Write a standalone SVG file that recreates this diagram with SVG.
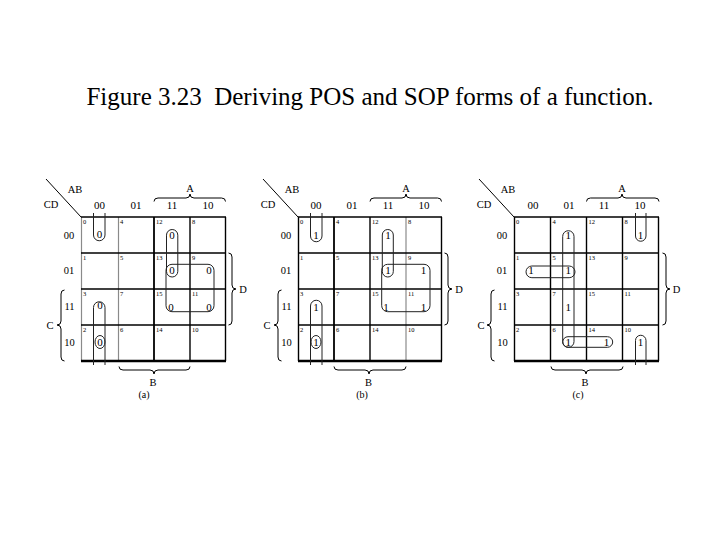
<svg xmlns="http://www.w3.org/2000/svg" width="720" height="540" viewBox="0 0 720 540">
<style>
text{font-family:"Liberation Serif","Times New Roman",serif;fill:#000}
.title{font-size:25px}
.lbl{font-size:10.5px;text-anchor:middle}
.hdr{font-size:11px;text-anchor:middle}
.row{font-size:10.5px;text-anchor:middle}
.val{font-size:11px;text-anchor:middle}
.num{font-size:6.5px}
.cap{font-size:10px;text-anchor:middle}
.g{stroke:#000;stroke-width:1.4;fill:none}
.gl{stroke:#8a8a8a;stroke-width:1.2;fill:none}
.gb{stroke:#000;stroke-width:2.6;fill:none}
.br{stroke:#000;stroke-width:1;fill:none}
.loop{stroke:#222;stroke-width:1;fill:none}
</style>
<rect width="720" height="540" fill="#fff"/>
<text class="title" x="370" y="105" text-anchor="middle" xml:space="preserve">Figure 3.23  Deriving POS and SOP forms of a function.</text>

<!-- Map (a) -->
<g id="map-a" transform="translate(81,0)">
  <g id="map-a-grid">
    <line class="gl" x1="0.5" y1="217" x2="0.5" y2="361"/>
    <line class="gl" x1="37.5" y1="217" x2="37.5" y2="361"/>
    <line class="g" x1="73" y1="217" x2="73" y2="361" style="stroke-width:1.8"/>
    <line class="g" x1="109" y1="217" x2="109" y2="361"/>
    <line class="g" x1="144.5" y1="217" x2="144.5" y2="361"/>
    <line class="g" x1="0" y1="217" x2="145" y2="217"/>
    <line class="g" x1="0" y1="253" x2="145" y2="253"/>
    <line class="g" x1="0" y1="289" x2="145" y2="289"/>
    <line class="g" x1="0" y1="325" x2="145" y2="325"/>
    <line class="gb" x1="0" y1="361" x2="145" y2="361"/>
  </g>
  <g id="map-a-labels">
    <line class="br" x1="-35" y1="179" x2="0" y2="217"/>
    <text class="lbl" x="-6" y="193">AB</text>
    <text class="lbl" x="-30" y="208">CD</text>
    <text class="hdr" x="18.5" y="209">00</text>
    <text class="hdr" x="55" y="209">01</text>
    <text class="hdr" x="91" y="209">11</text>
    <text class="hdr" x="127" y="209">10</text>
    <text class="row" x="-12" y="238.5">00</text>
    <text class="row" x="-12" y="274">01</text>
    <text class="row" x="-11.5" y="309.5">11</text>
    <text class="row" x="-11.5" y="345.5">10</text>
    <path class="br" d="M73,201.5 Q73,198 77,198 H105 Q109,198 109,194 Q109,198 113,198 H140.5 Q144.5,198 144.5,201.5"/>
    <text class="lbl" x="109" y="192">A</text>
    <path class="br" d="M147.5,253 Q151,253 151,257 V285 Q151,289 155,289 Q151,289 151,293 V321 Q151,325 147.5,325"/>
    <text class="lbl" x="162" y="293">D</text>
    <path class="br" d="M-16.5,290 Q-20,290 -20,294 V321 Q-20,325 -24,325 Q-20,325 -20,329 V357 Q-20,361 -16.5,361"/>
    <text class="lbl" x="-31" y="328.5">C</text>
    <path class="br" d="M38,366.5 Q38,370 42,370 H69 Q73,370 73,374 Q73,370 77,370 H105 Q109,370 109,366.5"/>
    <text class="lbl" x="72" y="386">B</text>
    <text class="cap" x="63" y="397.5">(a)</text>
  </g>
  <g id="map-a-nums" class="num">
    <text x="2" y="223.5">0</text><text x="39" y="223.5">4</text><text x="75" y="223.5">12</text><text x="111" y="223.5">8</text>
    <text x="2" y="259.5">1</text><text x="39" y="259.5">5</text><text x="75" y="259.5">13</text><text x="111" y="259.5">9</text>
    <text x="2" y="295.5">3</text><text x="39" y="295.5">7</text><text x="75" y="295.5">15</text><text x="111" y="295.5">11</text>
    <text x="2" y="331.5">2</text><text x="39" y="331.5">6</text><text x="75" y="331.5">14</text><text x="111" y="331.5">10</text>
  </g>
  <g id="map-a-vals">
    <text class="val" x="18.5" y="238">0</text>
    <text class="val" x="19" y="309">0</text>
    <text class="val" x="19" y="346">0</text>
    <text class="val" x="91" y="239">0</text>
    <text class="val" x="91" y="274">0</text>
    <text class="val" x="128" y="274">0</text>
    <text class="val" x="90" y="310.5">0</text>
    <text class="val" x="128" y="310.5">0</text>
  </g>
  <g id="map-a-loops">
    <path class="loop" d="M12.5,213 V235 A5.75,5.75 0 0 0 24,235 V213"/>
    <path class="loop" d="M12.5,365 V307.5 A5.75,5.75 0 0 1 24,307.5 V365"/>
    <ellipse class="loop" cx="19" cy="342" rx="5" ry="6.5"/>
    <rect class="loop" x="85.5" y="229.5" width="11.3" height="47.5" rx="5.65"/>
    <rect class="loop" x="85" y="264.3" width="48" height="47.4" rx="6"/>
  </g>
</g>

<!-- Map (b) -->
<g id="map-b" transform="translate(298,0)">
  <g id="map-b-grid">
    <line class="g" x1="0.5" y1="217" x2="0.5" y2="361"/>
    <line class="g" x1="36" y1="217" x2="36" y2="361" style="stroke-width:1.8"/>
    <line class="g" x1="72" y1="217" x2="72" y2="361"/>
    <line class="gl" x1="108" y1="217" x2="108" y2="361"/>
    <line class="g" x1="143.5" y1="217" x2="143.5" y2="361"/>
    <line class="g" x1="0" y1="217" x2="144" y2="217"/>
    <line class="g" x1="0" y1="253" x2="144" y2="253"/>
    <line class="g" x1="0" y1="289" x2="144" y2="289"/>
    <line class="g" x1="0" y1="325" x2="144" y2="325"/>
    <line class="gb" x1="0" y1="361" x2="144" y2="361"/>
  </g>
  <g id="map-b-labels">
    <line class="br" x1="-35" y1="179" x2="0" y2="217"/>
    <text class="lbl" x="-6" y="193">AB</text>
    <text class="lbl" x="-30" y="208">CD</text>
    <text class="hdr" x="18" y="209">00</text>
    <text class="hdr" x="54" y="209">01</text>
    <text class="hdr" x="90" y="209">11</text>
    <text class="hdr" x="126" y="209">10</text>
    <text class="row" x="-12" y="238.5">00</text>
    <text class="row" x="-12" y="274">01</text>
    <text class="row" x="-11.5" y="309.5">11</text>
    <text class="row" x="-11.5" y="345.5">10</text>
    <path class="br" d="M72,201.5 Q72,198 76,198 H104 Q108,198 108,194 Q108,198 112,198 H139.5 Q143.5,198 143.5,201.5"/>
    <text class="lbl" x="108" y="192">A</text>
    <path class="br" d="M146.5,253 Q150,253 150,257 V285 Q150,289 154,289 Q150,289 150,293 V321 Q150,325 146.5,325"/>
    <text class="lbl" x="161" y="293">D</text>
    <path class="br" d="M-16.5,290 Q-20,290 -20,294 V321 Q-20,325 -24,325 Q-20,325 -20,329 V357 Q-20,361 -16.5,361"/>
    <text class="lbl" x="-31" y="328.5">C</text>
    <path class="br" d="M36,366.5 Q36,370 40,370 H67 Q71,370 71,374 Q71,370 75,370 H104 Q108,370 108,366.5"/>
    <text class="lbl" x="70.5" y="386">B</text>
    <text class="cap" x="64" y="397.5">(b)</text>
  </g>
  <g id="map-b-nums" class="num">
    <text x="2" y="223.5">0</text><text x="38" y="223.5">4</text><text x="74" y="223.5">12</text><text x="110" y="223.5">8</text>
    <text x="2" y="259.5">1</text><text x="38" y="259.5">5</text><text x="74" y="259.5">13</text><text x="110" y="259.5">9</text>
    <text x="2" y="295.5">3</text><text x="38" y="295.5">7</text><text x="74" y="295.5">15</text><text x="110" y="295.5">11</text>
    <text x="2" y="331.5">2</text><text x="38" y="331.5">6</text><text x="74" y="331.5">14</text><text x="110" y="331.5">10</text>
  </g>
  <g id="map-b-vals">
    <text class="val" x="18" y="239">1</text>
    <text class="val" x="18" y="310.5">1</text>
    <text class="val" x="18" y="346">1</text>
    <text class="val" x="90" y="239">1</text>
    <text class="val" x="90" y="274">1</text>
    <text class="val" x="125.5" y="274">1</text>
    <text class="val" x="88" y="310.5">1</text>
    <text class="val" x="125.5" y="310.5">1</text>
  </g>
  <g id="map-b-loops">
    <path class="loop" d="M12.5,213 V236 A5.75,5.75 0 0 0 24,236 V213"/>
    <path class="loop" d="M12.5,365 V306 A5.75,5.75 0 0 1 24,306 V365"/>
    <ellipse class="loop" cx="18" cy="342" rx="5" ry="6.5"/>
    <rect class="loop" x="84.3" y="229.5" width="11" height="47.5" rx="5.5"/>
    <rect class="loop" x="83.7" y="264.3" width="48.3" height="47.4" rx="6"/>
  </g>
</g>

<!-- Map (c) -->
<g id="map-c" transform="translate(514,0)">
  <g id="map-c-grid">
    <line class="g" x1="0.5" y1="217" x2="0.5" y2="361"/>
    <line class="g" x1="36.5" y1="217" x2="36.5" y2="361"/>
    <line class="g" x1="72.5" y1="217" x2="72.5" y2="361"/>
    <line class="g" x1="108.5" y1="217" x2="108.5" y2="361"/>
    <line class="g" x1="144.5" y1="217" x2="144.5" y2="361"/>
    <line class="g" x1="0" y1="217" x2="145" y2="217"/>
    <line class="g" x1="0" y1="253" x2="145" y2="253"/>
    <line class="g" x1="0" y1="289" x2="145" y2="289"/>
    <line class="g" x1="0" y1="325" x2="145" y2="325"/>
    <line class="gb" x1="0" y1="361" x2="145" y2="361"/>
  </g>
  <g id="map-c-labels">
    <line class="br" x1="-35" y1="179" x2="0" y2="217"/>
    <text class="lbl" x="-6" y="193">AB</text>
    <text class="lbl" x="-30" y="208">CD</text>
    <text class="hdr" x="19" y="209">00</text>
    <text class="hdr" x="55" y="209">01</text>
    <text class="hdr" x="90" y="209">11</text>
    <text class="hdr" x="126" y="209">10</text>
    <text class="row" x="-12" y="238.5">00</text>
    <text class="row" x="-12" y="274">01</text>
    <text class="row" x="-11.5" y="309.5">11</text>
    <text class="row" x="-11.5" y="345.5">10</text>
    <path class="br" d="M72.5,201.5 Q72.5,198 76.5,198 H104 Q108,198 108,194 Q108,198 112,198 H141 Q145,198 145,201.5"/>
    <text class="lbl" x="108" y="192">A</text>
    <path class="br" d="M148.5,253 Q152,253 152,257 V285 Q152,289 156,289 Q152,289 152,293 V321 Q152,325 148.5,325"/>
    <text class="lbl" x="162.5" y="293">D</text>
    <path class="br" d="M-19.5,290 Q-23,290 -23,294 V321 Q-23,325 -27,325 Q-23,325 -23,329 V357 Q-23,361 -19.5,361"/>
    <text class="lbl" x="-33" y="328.5">C</text>
    <path class="br" d="M37,366.5 Q37,370 41,370 H68 Q72,370 72,374 Q72,370 76,370 H105 Q109,370 109,366.5"/>
    <text class="lbl" x="71" y="386">B</text>
    <text class="cap" x="64" y="397.5">(c)</text>
  </g>
  <g id="map-c-nums" class="num">
    <text x="2" y="223.5">0</text><text x="38.5" y="223.5">4</text><text x="74.5" y="223.5">12</text><text x="110.5" y="223.5">8</text>
    <text x="2" y="259.5">1</text><text x="38.5" y="259.5">5</text><text x="74.5" y="259.5">13</text><text x="110.5" y="259.5">9</text>
    <text x="2" y="295.5">3</text><text x="38.5" y="295.5">7</text><text x="74.5" y="295.5">15</text><text x="110.5" y="295.5">11</text>
    <text x="2" y="331.5">2</text><text x="38.5" y="331.5">6</text><text x="74.5" y="331.5">14</text><text x="110.5" y="331.5">10</text>
  </g>
  <g id="map-c-vals">
    <text class="val" x="54.3" y="239">1</text>
    <text class="val" x="54.3" y="274">1</text>
    <text class="val" x="54.3" y="310.5">1</text>
    <text class="val" x="54.3" y="345.5">1</text>
    <text class="val" x="17" y="274">1</text>
    <text class="val" x="92.5" y="345.5">1</text>
    <text class="val" x="126.5" y="239">1</text>
    <text class="val" x="126.5" y="345.5">1</text>
  </g>
  <g id="map-c-loops">
    <path class="loop" d="M121.5,213 V236 A5.25,5.25 0 0 0 132,236 V213"/>
    <path class="loop" d="M121.5,365 V340.5 A5.25,5.25 0 0 1 132,340.5 V365"/>
    <rect class="loop" x="48.7" y="230.7" width="11.3" height="116.6" rx="5.65"/>
    <rect class="loop" x="12" y="266" width="49" height="11.7" rx="5.85"/>
    <rect class="loop" x="48.7" y="336.7" width="50" height="10.6" rx="5.3"/>
  </g>
</g>
</svg>
